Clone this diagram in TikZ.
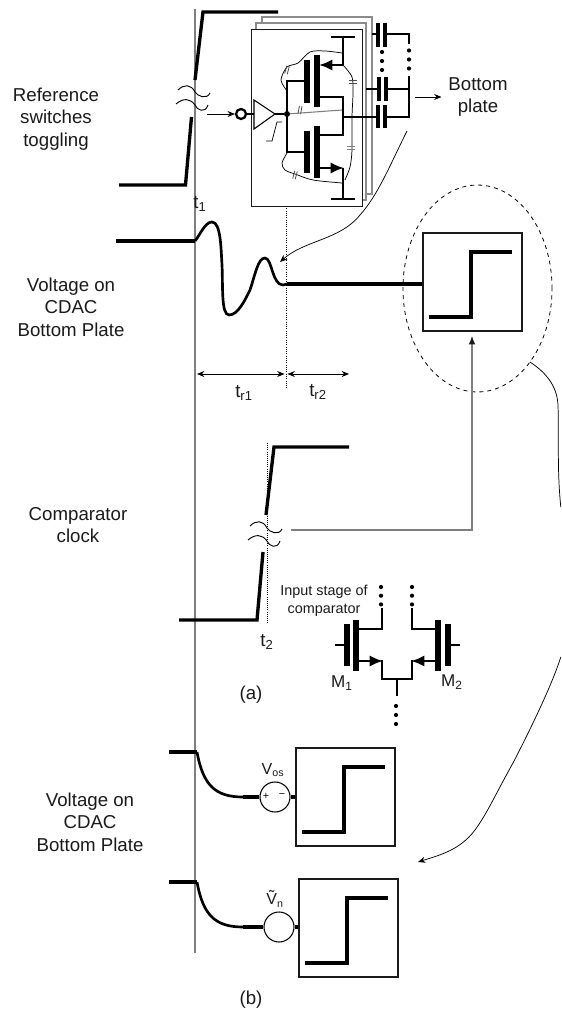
\documentclass[tikz,border=0pt]{standalone}
\usepackage{fontspec}
\setmainfont{Liberation Sans}
\usepackage{tikz}
\usetikzlibrary{arrows.meta, calc, positioning, shapes.geometric}
\definecolor{wgray}{HTML}{7F7F7F}
\definecolor{sheetgray}{HTML}{8C8C8C}
\definecolor{inkblk}{HTML}{1A1A1A}
\tikzset{
  trace/.style     = {draw=black, line width=2.5pt, line join=miter},
  wavecurve/.style = {draw=black, line width=2pt},
  steptrace/.style = {draw=black, line width=3pt},
  fetwire/.style   = {draw=black, line width=2.2pt},
  fetbar/.style    = {draw=black, line width=3.8pt},
  capbar/.style    = {draw=black, line width=2.3pt},
  hair/.style      = {draw=black, line width=0.55pt},
  grayline/.style  = {draw=wgray, line width=1.1pt},
  sheet/.style     = {draw=sheetgray, fill=white, line width=1pt},
  smallarrow/.style = {-{Stealth[length=5.5pt, width=4.5pt]}, draw=black, line width=0.7pt},
  doublearrow/.style = {{Stealth[length=5.5pt, width=4.5pt]}-{Stealth[length=5.5pt, width=4.5pt]},
                        draw=black, line width=0.7pt},
  fetarrow/.style  = {fetwire, -{Latex[length=10pt, width=8.5pt]}},
  lab/.style       = {font=\fontsize{14}{16.9}\selectfont, align=center, text=inkblk, inner sep=0pt},
  smalllab/.style  = {font=\fontsize{12}{13.5}\selectfont, align=center, text=inkblk, inner sep=0pt},
  stepframe/.style = {draw=inkblk, line width=1.1pt, minimum width=74.2pt,
                      minimum height=73.5pt, inner sep=0pt},
  srccirc/.style   = {circle, draw=black, line width=0.8pt, minimum size=22.5pt, inner sep=0pt},
  bubble/.style    = {circle, draw=black, fill=white, line width=1.7pt, minimum size=7.5pt, inner sep=0pt},
  joindot/.style   = {circle, fill=black, minimum size=4.5pt, inner sep=0pt},
}
\newcommand{\stepbox}[2]{%
  \node[stepframe] (#1) at (#2) {};
  \draw[steptrace] ($(#1)+(-43.5,35)$) -- ($(#1)+(-1.5,35)$) -- ($(#1)+(-1.5,-30)$) -- ($(#1)+(39.5,-30)$);}
\newcommand{\breakmark}[1]{%
  \draw[hair, line width=0.7pt] ($(#1)+(-17,0)$) .. controls ($(#1)+(-11,-6)$) and ($(#1)+(-4,-6)$) .. ($(#1)+(0,2)$)
    .. controls ($(#1)+(2,6)$) and ($(#1)+(12,10)$) .. ($(#1)+(15,3)$);
  \draw[hair, line width=0.7pt] ($(#1)+(-19,14)$) .. controls ($(#1)+(-12,8)$) and ($(#1)+(-5,8)$) .. ($(#1)+(0,15)$)
    .. controls ($(#1)+(2,20)$) and ($(#1)+(10,24)$) .. ($(#1)+(13,15)$);}
\newcommand{\dotcolumn}[3]{%
  \fill (#1,#2) circle (2.1);
  \fill (#1,#2+#3) circle (2.1);
  \fill (#1,#2+#3+#3) circle (2.1);}
\newcommand{\parcap}[4]{%
  \begin{scope}[shift={(#1,#2)}, rotate=#3]
    \draw[draw=#4, line width=0.6pt] (-4,-1.3) -- (4,-1.3);
    \draw[draw=#4, line width=0.6pt] (-4,1.3) -- (4,1.3);
  \end{scope}}
\begin{document}
\begin{tikzpicture}[x=0.75pt, y=-0.75pt]
  \useasboundingbox (0,0) rectangle (561,1019);
  \coordinate (railtop) at (195,9);
  \coordinate (railbot) at (195,953);
  \draw[grayline] (railtop) -- (railbot);
  % reference waveform
  \coordinate (refa) at (119,185);
  \coordinate (refb) at (185.5,185);
  \coordinate (refc) at (191.5,117);
  \coordinate (refd) at (195,80);
  \coordinate (refe) at (203,12);
  \coordinate (reff) at (278,12);
  \draw[trace] (refa) -- (refb) -- (refc);
  \draw[trace] (refd) -- (refe) -- (reff);
  \breakmark{195,90}
  \node[lab] (reflab) at (56,119) {Reference\\switches\\toggling};
  % stacked sheets
  \draw[sheet] (262,17) rectangle (372,194);
  \draw[sheet] (256,23) rectangle (366,200);
  \draw[draw=inkblk, fill=white, line width=0.7pt] (251,29) rectangle (362,206);
  \coordinate (togfrom) at (207,114);
  \node[bubble] (inv) at (241,114) {};
  \draw[smallarrow] (togfrom) -- (inv);
  \coordinate (bufa) at (254,100);
  \coordinate (bufb) at (254,129);
  \coordinate (bufc) at (275,114);
  \draw[draw=black, line width=0.8pt] (bufa) -- (bufb) -- (bufc) -- cycle;
  \draw[fetwire] (inv) -- (254,114);
  \node[joindot] (gate) at (287,114) {};
  \draw[fetwire] (bufc) -- (gate);
  \draw[hair, draw=wgray, line width=0.8pt] (gate) -- (342,110);
  \draw[fetwire] (307,81) -- (287,81) -- (287,152) -- (307,152);
  \draw[fetbar] (307,60) -- (307,103);
  \draw[fetbar] (317,55) -- (317,107);
  \draw[fetbar] (307,131) -- (307,173);
  \draw[fetbar] (317,126) -- (317,178);
  \draw[fetwire] (331,37) -- (355,37);
  \draw[fetwire] (331,199) -- (355,199);
  \draw[fetwire] (343,37) -- (343,65);
  \draw[fetarrow] (343,65) -- (319,65);
  \draw[fetwire] (343,168) -- (343,199);
  \draw[fetarrow] (319,168) -- (344,168);
  \draw[fetwire] (317,97) -- (343,97) -- (343,135) -- (317,135);
  % overlap capacitors
  \draw[hair] plot[smooth] coordinates {(287,91) (281,80) (287,67) (298,63) (310,52) (325,51) (342,53)};
  \draw[hair] plot[smooth] coordinates {(343,65) (352,77) (353,93) (352,117) (352,150) (350,167) (345,180)};
  \draw[hair] plot[smooth] coordinates {(287,153) (282,163) (285,170) (295,174) (313,180) (342,183)};
  \parcap{287}{70}{75}{black!70}
  \parcap{300}{110}{80}{black!70}
  \parcap{295}{175}{75}{black!70}
  \parcap{353}{82}{0}{black!70}
  \parcap{351}{148}{0}{wgray}
  \draw[hair, draw=black] (266,141) -- (272,141) -- (277,122) -- (282,122);
  % cap bank
  \draw[fetwire] (343,117) -- (378,117);
  \draw[capbar] (378,105) -- (378,128);
  \draw[capbar] (385,105) -- (385,128);
  \draw[fetwire] (385,117) -- (409,117) -- (409,76);
  \draw[fetwire] (366,89) -- (379,89);
  \draw[capbar] (379,77) -- (379,101);
  \draw[capbar] (386,77) -- (386,101);
  \draw[fetwire] (386,89) -- (409,89);
  \draw[fetwire] (372,34) -- (378,34);
  \draw[capbar] (378,23) -- (378,47);
  \draw[capbar] (385,23) -- (385,47);
  \draw[fetwire] (385,34) -- (409,34) -- (409,44);
  \dotcolumn{382}{52}{9}
  \dotcolumn{409}{50.5}{9}
  \coordinate (bpfrom) at (415,97);
  \node[lab] (bplab) at (478,97) {Bottom\\plate};
  \draw[smallarrow, shorten >=5pt] (bpfrom) -- (bplab.west);
  % cdac bottom plate
  \coordinate (cda) at (116,241);
  \coordinate (cdb) at (195,241);
  \coordinate (cdc) at (287,284);
  \draw[trace] (cda) -- (cdb);
  \draw[wavecurve] (cdb) .. controls (200,235) and (205,222) .. (212,222)
    .. controls (221,222) and (221,250) .. (222,265)
    .. controls (223,285) and (221,315) .. (229,315)
    .. controls (238,315) and (245,300) .. (250,290)
    .. controls (255,275) and (258,258) .. (265,258)
    .. controls (272,258) and (272,285) .. (283,285) -- (cdc);
  \node[lab] (t1lab) at (200,204) {t\textsubscript{1}};
  \node[lab] (cdaclab) at (71,307) {Voltage on\\CDAC\\Bottom Plate};
  \stepbox{cmpa}{472.5,282}
  \draw[trace] (cdc) -- (cdc -| cmpa.west);
  \coordinate (setlsrc) at (407,131);
  \coordinate (setltip) at (280,262);
  \draw[smallarrow, line width=0.55pt] (setlsrc) .. controls (390,165) and (378,195) .. (360,215)
    .. controls (340,240) and (305,240) .. (setltip);
  \coordinate (dota) at (286,206);
  \coordinate (dotb) at (286,388);
  \draw[black, line width=0.7pt, densely dotted] (dota) -- (dotb);
  \coordinate (ra) at (197,374);
  \coordinate (rb) at (284.5,374);
  \coordinate (rc) at (287.5,374);
  \coordinate (rd) at (349,374);
  \draw[doublearrow] (ra) -- (rb);
  \draw[doublearrow] (rc) -- (rd);
  \node[lab] (tr1lab) at (244,393) {t\textsubscript{r1}};
  \node[lab] (tr2lab) at (318,392) {t\textsubscript{r2}};
  % dashed oval and long curve
  \node[ellipse, draw=black, dashed, line width=0.6pt, minimum width=111.8pt, minimum height=155.2pt,
        inner sep=0pt] (oval) at (477.5,288.5) {};
  \coordinate (ovalout) at (530,362);
  \coordinate (edgea) at (560.8,507);
  \coordinate (edgeb) at (560.8,657);
  \coordinate (fartip) at (418,862);
  \draw[hair] (ovalout) .. controls (545,372) and (557,385) .. (558,405)
    .. controls (559,440) and (557,470) .. (edgea);
  \draw[smallarrow, line width=0.55pt] (edgeb) .. controls (552,685) and (530,730) .. (513,763)
    .. controls (495,795) and (488,812) .. (475,830) .. controls (460,850) and (440,855) .. (fartip);
  % comparator clock
  \coordinate (clka) at (179,620);
  \coordinate (clkb) at (257,620);
  \coordinate (clkc) at (263,552);
  \coordinate (clkd) at (266,515);
  \coordinate (clke) at (274,447);
  \coordinate (clkf) at (349,447);
  \draw[black, line width=0.6pt, densely dotted] (267,443) -- (267,624);
  \draw[trace] (clka) -- (clkb) -- (clkc);
  \draw[trace] (clkd) -- (clke) -- (clkf);
  \breakmark{267,526}
  \node[lab] (t2lab) at (267,642) {t\textsubscript{2}};
  \node[lab] (clklab) at (78,525) {Comparator\\clock};
  \coordinate (clkout) at (291,530);
  \coordinate (clkturn) at (472,530);
  \draw[grayline, -{Latex[length=6.5pt, width=5pt, color=inkblk]}, shorten >=3pt] (clkout) -- (clkturn) -- (clkturn |- cmpa.south);
  % input stage
  \node[font=\fontsize{10.8}{13.5}\selectfont, align=center, text=inkblk, inner sep=0pt] (inplab) at (324,601) {Input stage of\\comparator};
  \dotcolumn{381}{587}{8.7}
  \dotcolumn{412}{587}{8.7}
  \draw[fetwire] (335,645) -- (347,645);
  \draw[fetbar] (347,624) -- (347,666);
  \draw[fetbar] (356,620) -- (356,671);
  \draw[fetwire] (382,608) -- (382,629) -- (357,629);
  \draw[fetarrow] (357,661) -- (383,661);
  \draw[fetwire] (382,660) -- (382,679) -- (412,679) -- (412,660);
  \draw[fetarrow] (437,661) -- (411,661);
  \draw[fetwire] (412,608) -- (412,629) -- (437,629);
  \draw[fetbar] (438,620) -- (438,671);
  \draw[fetbar] (448,624) -- (448,666);
  \draw[fetwire] (448,645) -- (460,645);
  \draw[fetwire] (397,679) -- (397,696);
  \dotcolumn{396}{706}{9}
  \node[smalllab, font=\fontsize{12.8}{14}\selectfont] (m1lab) at (342,683) {M\textsubscript{1}};
  \node[smalllab, font=\fontsize{12.8}{14}\selectfont] (m2lab) at (452,682) {M\textsubscript{2}};
  \node[lab] (alab) at (251,695) {(a)};
  % part b
  \coordinate (osa) at (169,752);
  \coordinate (osb) at (197,752);
  \coordinate (osc) at (243,797);
  \draw[trace] (osa) -- (osb);
  \draw[wavecurve] (osb) .. controls (203,785) and (215,797) .. (osc);
  \node[srccirc] (vos) at (275,797) {};
  \draw[trace] (osc) -- (vos.west);
  \stepbox{cmpb}{345.5,797}
  \draw[trace] (vos.east) -- (cmpb.west);
  \node[font=\fontsize{8}{9}\selectfont, inner sep=0pt] (vosp) at (266,796) {+};
  \node[font=\fontsize{8}{9}\selectfont, inner sep=0pt] (vosm) at (282,796) {−};
  \node[smalllab] (voslab) at (273,770) {V\textsubscript{os}};
  \coordinate (na) at (169,882);
  \coordinate (nb) at (197,882);
  \coordinate (nc) at (243,927);
  \draw[trace] (na) -- (nb);
  \draw[wavecurve] (nb) .. controls (203,915) and (215,927) .. (nc);
  \node[srccirc] (vn) at (279,927) {};
  \draw[trace] (nc) -- (vn.west);
  \stepbox{cmpc}{348.5,928}
  \draw[trace] (vn.east) -- (vn.east -| cmpc.west);
  \node[smalllab] (vnlab) at (275,899) {\~{V}\textsubscript{n}};
  \node[lab] (volt2lab) at (90,822) {Voltage on\\CDAC\\Bottom Plate};
  \node[lab] (blab) at (251,1000) {(b)};
\end{tikzpicture}
\end{document}
